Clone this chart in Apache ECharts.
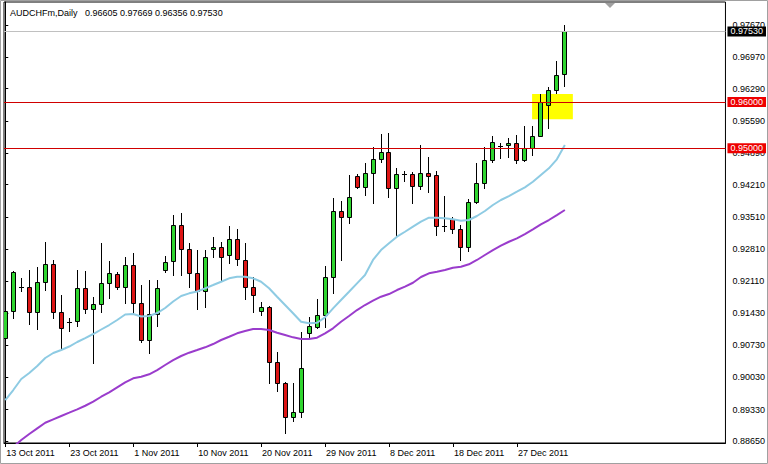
<!DOCTYPE html>
<html><head><meta charset="utf-8">
<script src="https://cdn.jsdelivr.net/npm/echarts@6/dist/echarts.min.js"></script>
<style>html,body{margin:0;padding:0;background:#fff}#c{width:768px;height:464px}</style>
</head><body><div id="c"></div>
<script>
const symbol = 'AUDCHFm,Daily';
const dates = ['13 Oct 2011','14 Oct 2011','16 Oct 2011','17 Oct 2011','18 Oct 2011','19 Oct 2011','20 Oct 2011','21 Oct 2011',
 '23 Oct 2011','24 Oct 2011','25 Oct 2011','26 Oct 2011','27 Oct 2011','28 Oct 2011','30 Oct 2011','31 Oct 2011',
 '1 Nov 2011','2 Nov 2011','3 Nov 2011','4 Nov 2011','6 Nov 2011','7 Nov 2011','8 Nov 2011','9 Nov 2011',
 '10 Nov 2011','11 Nov 2011','13 Nov 2011','14 Nov 2011','15 Nov 2011','16 Nov 2011','17 Nov 2011','18 Nov 2011',
 '20 Nov 2011','21 Nov 2011','22 Nov 2011','23 Nov 2011','24 Nov 2011','25 Nov 2011','27 Nov 2011','28 Nov 2011',
 '29 Nov 2011','30 Nov 2011','1 Dec 2011','2 Dec 2011','4 Dec 2011','5 Dec 2011','6 Dec 2011','7 Dec 2011',
 '8 Dec 2011','9 Dec 2011','11 Dec 2011','12 Dec 2011','13 Dec 2011','14 Dec 2011','15 Dec 2011','16 Dec 2011',
 '18 Dec 2011','19 Dec 2011','20 Dec 2011','21 Dec 2011','22 Dec 2011','23 Dec 2011','25 Dec 2011','26 Dec 2011',
 '27 Dec 2011','28 Dec 2011','29 Dec 2011','30 Dec 2011','1 Jan 2012','2 Jan 2012','3 Jan 2012'];
const openP = [0.90883,0.91469,0.91995,0.91989,0.91447,0.92098,0.92488,0.91447,0.91225,0.91252,
 0.91967,0.91512,0.91620,0.92076,0.92271,0.91989,0.92466,0.91642,0.90840,0.91404,
 0.92358,0.92553,0.93333,0.92813,0.92293,0.91902,0.92813,0.92856,0.92683,0.93030,
 0.92575,0.91989,0.91469,0.91555,0.90363,0.89908,0.89170,0.89279,0.90992,0.91122,
 0.91382,0.92206,0.93637,0.93507,0.94396,0.94157,0.94461,0.94765,0.94916,0.94136,
 0.94439,0.94439,0.94179,0.94461,0.94418,0.93312,0.93464,0.93247,0.92856,0.93832,
 0.94244,0.94743,0.95046,0.95068,0.95111,0.94743,0.95003,0.95263,0.95935,0.96261,
 0.96605];
const highP = [0.91707,0.92336,0.92184,0.92358,0.92423,0.92965,0.92575,0.91816,0.91317,0.92358,
 0.92336,0.91772,0.92943,0.92553,0.92314,0.92640,0.92726,0.92032,0.92141,0.92141,
 0.92661,0.93550,0.93594,0.92943,0.92791,0.92791,0.93073,0.92965,0.93312,0.93247,
 0.92943,0.92206,0.91664,0.91577,0.90580,0.89929,0.89908,0.91013,0.91339,0.91729,
 0.92444,0.93919,0.93854,0.94418,0.94439,0.94678,0.95025,0.95307,0.95328,0.94569,
 0.94504,0.94483,0.95068,0.94808,0.94504,0.93962,0.93507,0.93333,0.93897,0.94678,
 0.95025,0.95263,0.95111,0.95220,0.95285,0.95480,0.95480,0.96174,0.96326,0.96889,
 0.97669];
const lowP = [0.90840,0.91317,0.91902,0.91187,0.91078,0.91924,0.91317,0.90645,0.91035,0.91143,
 0.91425,0.90341,0.91447,0.91751,0.91946,0.91642,0.91425,0.90797,0.90558,0.91143,
 0.92314,0.92249,0.92249,0.91989,0.91512,0.91555,0.92640,0.92141,0.92510,0.92466,
 0.91729,0.91447,0.91382,0.89908,0.89734,0.88823,0.89084,0.89170,0.90905,0.91110,
 0.91122,0.91859,0.92575,0.93377,0.94136,0.93984,0.93810,0.94699,0.93941,0.93073,
 0.94287,0.93810,0.94114,0.94049,0.93117,0.93203,0.93160,0.92575,0.92770,0.93810,
 0.94136,0.94699,0.94786,0.94808,0.94678,0.94721,0.94851,0.95255,0.95437,0.96196,
 0.96356];
const closeP = [0.91469,0.92314,0.92000,0.91447,0.92098,0.92488,0.91447,0.91100,0.91220,0.91967,
 0.91512,0.91620,0.92076,0.92293,0.91989,0.92466,0.91642,0.90840,0.91404,0.91967,
 0.92531,0.93333,0.92813,0.92293,0.91902,0.92640,0.92856,0.92640,0.93030,0.92596,
 0.91989,0.91816,0.91555,0.90363,0.89908,0.89170,0.89279,0.90233,0.91143,0.91382,
 0.92206,0.93637,0.93507,0.93941,0.94157,0.94461,0.94765,0.94916,0.94136,0.94439,
 0.94435,0.94179,0.94461,0.94396,0.93312,0.93305,0.93247,0.92856,0.93832,0.94244,
 0.94743,0.95133,0.95050,0.95111,0.94743,0.95003,0.95263,0.96000,0.96261,0.96586,
 0.97530];
const maFast = [0.89539,0.89756,0.89994,0.90124,0.90276,0.90450,0.90558,0.90623,0.90699,0.90797,
 0.90883,0.90970,0.91068,0.91165,0.91274,0.91393,0.91404,0.91349,0.91360,0.91425,
 0.91534,0.91675,0.91794,0.91852,0.91891,0.91961,0.92032,0.92104,0.92178,0.92212,
 0.92212,0.92178,0.92104,0.91961,0.91779,0.91599,0.91419,0.91237,0.91202,0.91215,
 0.91332,0.91527,0.91707,0.91887,0.92069,0.92249,0.92575,0.92791,0.92937,0.93080,
 0.93188,0.93297,0.93405,0.93492,0.93492,0.93479,0.93457,0.93427,0.93442,0.93529,
 0.93637,0.93767,0.93876,0.93962,0.94055,0.94151,0.94272,0.94418,0.94563,0.94758,
 0.95068];
const maSlow = [0.88411,0.88520,0.88672,0.88802,0.88925,0.89047,0.89120,0.89192,0.89264,0.89337,
 0.89415,0.89502,0.89610,0.89706,0.89814,0.89923,0.90009,0.90044,0.90096,0.90189,
 0.90298,0.90406,0.90493,0.90565,0.90623,0.90682,0.90753,0.90840,0.90911,0.90985,
 0.91035,0.91078,0.91078,0.91057,0.90998,0.90948,0.90898,0.90862,0.90862,0.90890,
 0.90985,0.91094,0.91237,0.91360,0.91490,0.91599,0.91692,0.91779,0.91837,0.91924,
 0.91996,0.92082,0.92206,0.92286,0.92321,0.92358,0.92408,0.92429,0.92481,0.92575,
 0.92683,0.92791,0.92885,0.92971,0.93045,0.93138,0.93240,0.93349,0.93442,0.93550,
 0.93659];
const yTickValues = [0.97670,0.96970,0.96290,0.95590,0.94890,0.94210,0.93510,0.92810,0.92110,0.91430,0.90730,0.90030,0.89330,0.88650];
const xTickIndex = [0,8,16,24,32,40,48,56,64];
const levelLines = [0.96000, 0.95000];
const bidPrice = 0.97530;
const zoneBars = [65.9, 71.0];
const zonePrices = [0.95626, 0.96174];

const FONT = 'Liberation Sans';
const last = openP.length - 1;
const header = symbol + '\u00a0\u00a0\u00a0' + [openP[last], highP[last], lowP[last], closeP[last]].map(v => v.toFixed(5)).join(' ');

const candleData = openP.map((o, i) => [i, o, closeP[i], lowP[i], highP[i]]);
const fastData = maFast.map((v, i) => [i, v]);
const slowData = maSlow.map((v, i) => [i, v]);

function renderCandle(params, api) {
  const x = api.value(0);
  const pO = api.coord([x, api.value(1)]);
  const pC = api.coord([x, api.value(2)]);
  const pL = api.coord([x, api.value(3)]);
  const pH = api.coord([x, api.value(4)]);
  const cx = Math.floor(pO[0]);
  const yH = Math.round(pH[1]), yL = Math.round(pL[1]);
  const children = [{
    type: 'rect', shape: {x: cx, y: yH, width: 1, height: Math.max(1, yL - yH + 1)},
    style: {fill: '#000'}
  }];
  const yO = pO[1], yC = pC[1];
  if (Math.abs(yO - yC) < 1.5) {
    children.push({type: 'rect', shape: {x: cx - 2, y: Math.round((yO + yC) / 2), width: 5, height: 1}, style: {fill: '#000'}});
  } else {
    const top = Math.round(Math.min(yO, yC)), bot = Math.round(Math.max(yO, yC));
    const bull = api.value(2) > api.value(1);
    children.push({type: 'rect', shape: {x: cx - 1.5, y: top + 0.5, width: 4, height: bot - top},
      style: {fill: bull ? '#2fd52f' : '#dd1515', stroke: '#000', lineWidth: 1}});
  }
  return {type: 'group', children: children};
}

const chart = echarts.init(document.getElementById('c'), null, {renderer: 'svg'});
chart.setOption({
  animation: false,
  backgroundColor: '#fff',
  title: {
    text: header, left: 10, top: 8, padding: 0,
    textStyle: {fontFamily: FONT, fontSize: 9, fontWeight: 'normal', color: '#000'}
  },
  grid: {left: 4, right: 42, top: 2, bottom: 21, show: true, borderColor: '#000', borderWidth: 1, backgroundColor: 'transparent'},
  xAxis: {
    type: 'value', min: -0.16, max: 90.09,
    axisLine: {show: true, lineStyle: {color: '#000', width: 1}},
    axisTick: {show: true, customValues: xTickIndex, length: 4, lineStyle: {color: '#000'}},
    axisLabel: {customValues: xTickIndex, formatter: v => dates[v], align: 'left', margin: 5,
      fontFamily: FONT, fontSize: 9, color: '#000', padding: [0, 0, 0, 1]},
    splitLine: {show: false}
  },
  yAxis: {
    type: 'value', position: 'right', min: 0.88607, max: 0.98169, scale: true,
    axisLine: {show: true, lineStyle: {color: '#000', width: 1}},
    axisTick: {show: true, customValues: yTickValues, length: 3, lineStyle: {color: '#000'}},
    axisLabel: {customValues: yTickValues, formatter: v => v.toFixed(5), margin: 7,
      fontFamily: FONT, fontSize: 9, color: '#000'},
    splitLine: {show: false}
  },
  series: [
    {
      name: 'zone', type: 'line', data: [], z: 1, silent: true,
      markArea: {silent: true, itemStyle: {color: '#ffff00', opacity: 1},
        data: [[{xAxis: zoneBars[0], yAxis: zonePrices[1]}, {xAxis: zoneBars[1], yAxis: zonePrices[0]}]]}
    },
    {
      name: 'price', type: 'custom', z: 2, renderItem: renderCandle, data: candleData,
      encode: {x: 0, y: [1, 2, 3, 4]}, clip: true, silent: true
    },
    {
      name: 'maFast', type: 'line', z: 3, data: fastData, showSymbol: false, symbol: 'none', clip: true,
      lineStyle: {color: '#8ecbe3', width: 2}, silent: true
    },
    {
      name: 'maSlow', type: 'line', z: 3, data: slowData, showSymbol: false, symbol: 'none', clip: true,
      lineStyle: {color: '#9a3ccc', width: 2}, silent: true
    },
    {
      name: 'levels', type: 'line', data: [], z: 4, silent: true,
      markLine: {
        silent: true, symbol: ['none', 'none'], animation: false, precision: 5,
        data: [
          {yAxis: bidPrice, lineStyle: {color: '#c0c0c0', width: 1, type: 'solid'},
           label: {backgroundColor: '#000'}},
          ...levelLines.map(v => ({yAxis: v, lineStyle: {color: '#d00000', width: 1, type: 'solid'},
           label: {backgroundColor: '#ee0000'}}))
        ],
        label: {show: true, position: 'end', distance: 2, formatter: p => Number(p.value).toFixed(5),
          color: '#fff', fontFamily: FONT, fontSize: 9, lineHeight: 9, padding: [1, 3, 0, 3]}
      }
    }
  ],
  graphic: [
    {type: 'rect', shape: {x: 0.5, y: 0.5, width: 767, height: 463}, style: {fill: 'none', stroke: '#a0a0a0', lineWidth: 1}, z: 10, silent: true},
    {type: 'polygon', shape: {points: [[605, 3], [615, 3], [610, 8]]}, style: {fill: '#a0a0a0'}, z: 10, silent: true}
  ]
});
</script>
</body></html>
